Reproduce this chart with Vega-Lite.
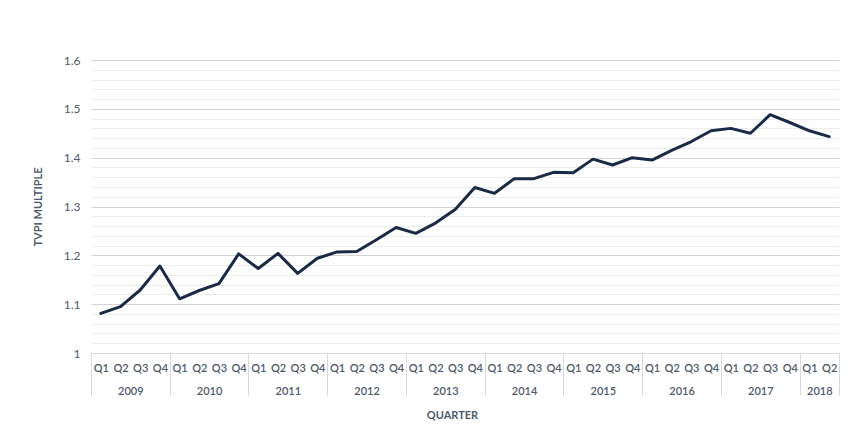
{
  "$schema": "https://vega.github.io/schema/vega-lite/v6.json",
  "autosize": "none",
  "width": 748,
  "height": 293,
  "padding": {"left": 91, "top": 60, "right": 26, "bottom": 84},
  "background": "white",
  "config": {
    "font": "Lato",
    "view": {"stroke": null},
    "axis": {"labelColor": "#4f5a6a", "titleColor": "#4f5a6a", "labelFont": "Lato", "titleFont": "Lato"}
  },
  "data": {"values": [
    {"period": "2009 Q1", "year": 2009, "quarter": "Q1", "t": 2009.0, "tvpi": 1.081},
    {"period": "2009 Q2", "year": 2009, "quarter": "Q2", "t": 2009.25, "tvpi": 1.095},
    {"period": "2009 Q3", "year": 2009, "quarter": "Q3", "t": 2009.5, "tvpi": 1.129},
    {"period": "2009 Q4", "year": 2009, "quarter": "Q4", "t": 2009.75, "tvpi": 1.178},
    {"period": "2010 Q1", "year": 2010, "quarter": "Q1", "t": 2010.0, "tvpi": 1.111},
    {"period": "2010 Q2", "year": 2010, "quarter": "Q2", "t": 2010.25, "tvpi": 1.128},
    {"period": "2010 Q3", "year": 2010, "quarter": "Q3", "t": 2010.5, "tvpi": 1.142},
    {"period": "2010 Q4", "year": 2010, "quarter": "Q4", "t": 2010.75, "tvpi": 1.203},
    {"period": "2011 Q1", "year": 2011, "quarter": "Q1", "t": 2011.0, "tvpi": 1.173},
    {"period": "2011 Q2", "year": 2011, "quarter": "Q2", "t": 2011.25, "tvpi": 1.204},
    {"period": "2011 Q3", "year": 2011, "quarter": "Q3", "t": 2011.5, "tvpi": 1.163},
    {"period": "2011 Q4", "year": 2011, "quarter": "Q4", "t": 2011.75, "tvpi": 1.194},
    {"period": "2012 Q1", "year": 2012, "quarter": "Q1", "t": 2012.0, "tvpi": 1.207},
    {"period": "2012 Q2", "year": 2012, "quarter": "Q2", "t": 2012.25, "tvpi": 1.208},
    {"period": "2012 Q3", "year": 2012, "quarter": "Q3", "t": 2012.5, "tvpi": 1.232},
    {"period": "2012 Q4", "year": 2012, "quarter": "Q4", "t": 2012.75, "tvpi": 1.257},
    {"period": "2013 Q1", "year": 2013, "quarter": "Q1", "t": 2013.0, "tvpi": 1.245},
    {"period": "2013 Q2", "year": 2013, "quarter": "Q2", "t": 2013.25, "tvpi": 1.266},
    {"period": "2013 Q3", "year": 2013, "quarter": "Q3", "t": 2013.5, "tvpi": 1.294},
    {"period": "2013 Q4", "year": 2013, "quarter": "Q4", "t": 2013.75, "tvpi": 1.339},
    {"period": "2014 Q1", "year": 2014, "quarter": "Q1", "t": 2014.0, "tvpi": 1.327},
    {"period": "2014 Q2", "year": 2014, "quarter": "Q2", "t": 2014.25, "tvpi": 1.357},
    {"period": "2014 Q3", "year": 2014, "quarter": "Q3", "t": 2014.5, "tvpi": 1.357},
    {"period": "2014 Q4", "year": 2014, "quarter": "Q4", "t": 2014.75, "tvpi": 1.370},
    {"period": "2015 Q1", "year": 2015, "quarter": "Q1", "t": 2015.0, "tvpi": 1.369},
    {"period": "2015 Q2", "year": 2015, "quarter": "Q2", "t": 2015.25, "tvpi": 1.397},
    {"period": "2015 Q3", "year": 2015, "quarter": "Q3", "t": 2015.5, "tvpi": 1.385},
    {"period": "2015 Q4", "year": 2015, "quarter": "Q4", "t": 2015.75, "tvpi": 1.400},
    {"period": "2016 Q1", "year": 2016, "quarter": "Q1", "t": 2016.0, "tvpi": 1.395},
    {"period": "2016 Q2", "year": 2016, "quarter": "Q2", "t": 2016.25, "tvpi": 1.415},
    {"period": "2016 Q3", "year": 2016, "quarter": "Q3", "t": 2016.5, "tvpi": 1.433},
    {"period": "2016 Q4", "year": 2016, "quarter": "Q4", "t": 2016.75, "tvpi": 1.455},
    {"period": "2017 Q1", "year": 2017, "quarter": "Q1", "t": 2017.0, "tvpi": 1.460},
    {"period": "2017 Q2", "year": 2017, "quarter": "Q2", "t": 2017.25, "tvpi": 1.450},
    {"period": "2017 Q3", "year": 2017, "quarter": "Q3", "t": 2017.5, "tvpi": 1.488},
    {"period": "2017 Q4", "year": 2017, "quarter": "Q4", "t": 2017.75, "tvpi": 1.472},
    {"period": "2018 Q1", "year": 2018, "quarter": "Q1", "t": 2018.0, "tvpi": 1.455},
    {"period": "2018 Q2", "year": 2018, "quarter": "Q2", "t": 2018.25, "tvpi": 1.443}
  ]},
  "resolve": {"scale": {"x": "independent"}},
  "layer": [
    {
      "mark": {"type": "line", "color": "#1b2a47", "strokeWidth": 3, "strokeJoin": "round", "strokeCap": "round"},
      "encoding": {
        "x": {
          "field": "period", "type": "ordinal", "sort": null,
          "scale": {"type": "point", "padding": 0.5},
          "axis": {
            "orient": "bottom", "title": null, "labelAngle": 0, "ticks": false,
            "domain": true, "domainColor": "#d9d9d9", "domainWidth": 1,
            "labelPadding": 9, "labelFontSize": 11, "labelFontWeight": 600,
            "labelExpr": "split(datum.value, ' ')[1]", "grid": false
          }
        },
        "y": {
          "field": "tvpi", "type": "quantitative",
          "scale": {"domain": [1, 1.6], "nice": false, "zero": false},
          "axis": {
            "title": "TVPI MULTIPLE", "titleFontSize": 11, "titleFontWeight": "bold", "titlePadding": 20,
            "domain": false, "ticks": false, "labelPadding": 11, "labelFontSize": 12,
            "values": [1, 1.02, 1.04, 1.06, 1.08, 1.1, 1.12, 1.14, 1.16, 1.18, 1.2, 1.22, 1.24, 1.26, 1.28, 1.3, 1.32, 1.34, 1.36, 1.38, 1.4, 1.42, 1.44, 1.46, 1.48, 1.5, 1.52, 1.54, 1.56, 1.58, 1.6],
            "labelExpr": "abs(datum.value*10 - round(datum.value*10)) < 0.001 ? format(datum.value, '~g') : ''",
            "grid": true,
            "gridColor": {"condition": {"test": "abs(datum.value*10 - round(datum.value*10)) < 0.001", "value": "#d4d4d4"}, "value": "#ececec"},
            "gridWidth": 1
          }
        }
      }
    },
    {
      "mark": {"type": "point", "opacity": 0},
      "encoding": {
        "x": {
          "field": "t", "type": "quantitative",
          "scale": {"domain": [2009, 2018.5], "nice": false, "zero": false},
          "axis": {
            "orient": "bottom", "values": [2009.5, 2010.5, 2011.5, 2012.5, 2013.5, 2014.5, 2015.5, 2016.5, 2017.5, 2018.25],
            "labelExpr": "'' + floor(datum.value)", "ticks": false, "domain": false, "grid": false,
            "labelPadding": 32, "labelFontSize": 11, "labelFontWeight": 600, "labelFlush": false, "labelOverlap": false,
            "title": "QUARTER", "titleFontSize": 11, "titleFontWeight": "bold", "titlePadding": 13, "titleX": 361
          }
        }
      }
    },
    {
      "mark": {"type": "point", "opacity": 0},
      "encoding": {
        "x": {
          "field": "t", "type": "quantitative",
          "scale": {"domain": [2009, 2018.5], "nice": false, "zero": false},
          "axis": {
            "orient": "bottom", "values": [2009, 2010, 2011, 2012, 2013, 2014, 2015, 2016, 2017, 2018, 2018.5],
            "labels": false, "domain": false, "grid": false, "title": null,
            "ticks": true, "tickSize": 42, "tickColor": "#d9d9d9", "tickWidth": 1
          }
        }
      }
    }
  ]
}
